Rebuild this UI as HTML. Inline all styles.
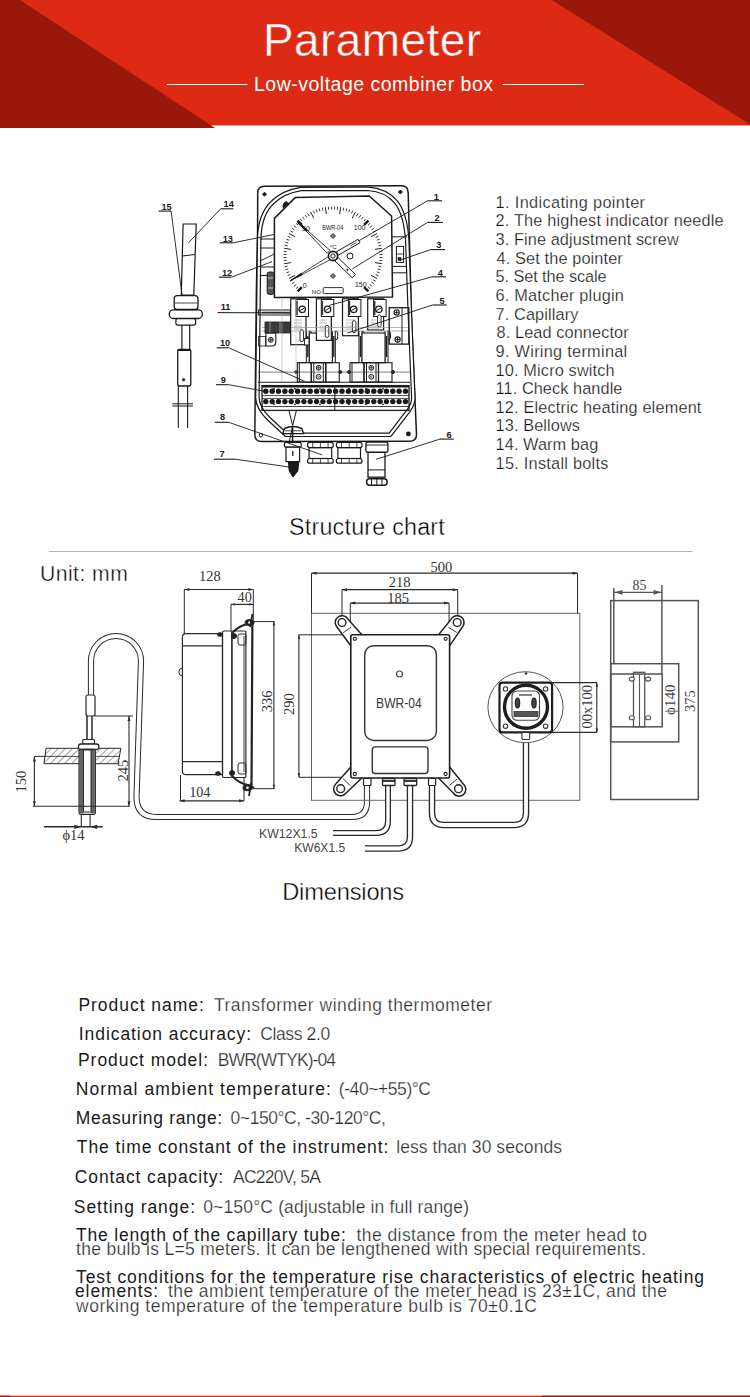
<!DOCTYPE html>
<html><head><meta charset="utf-8"><title>Parameter</title>
<style>
html,body{margin:0;padding:0;background:#fff;}
body{width:750px;height:1397px;position:relative;overflow:hidden;font-family:"Liberation Sans",sans-serif;}
.t{position:absolute;white-space:pre;line-height:1;}
svg{position:absolute;left:0;top:0;}
</style></head><body>
<svg width="750" height="1397" viewBox="0 0 750 1397">
<rect x="0" y="0" width="750" height="125.5" fill="#dd2a14"/>
<polygon points="20,0 215,128 0,128 0,0" fill="#9a1809"/>
<polygon points="552,0 750,0 750,124.5" fill="#9a1809"/>
<line x1="167" y1="84.5" x2="247.5" y2="84.5" stroke="#fff" stroke-width="1.2"/>
<line x1="502.7" y1="84.5" x2="584" y2="84.5" stroke="#fff" stroke-width="1.2"/>
<line x1="48.8" y1="551.5" x2="692.6" y2="551.5" stroke="#b4b4b4" stroke-width="1"/>
<rect x="0" y="1395.7" width="750" height="1.3" fill="#dd2a14"/><rect x="0" y="1395.7" width="10" height="1.3" fill="#9a1809"/><rect x="542" y="1395.7" width="208" height="1.3" fill="#9a1809"/>
<g id="d1"><text x="166.5" y="209.5" font-size="9.2" text-anchor="middle" fill="#1a1a1a" font-family="Liberation Sans" font-weight="bold" >15</text>
<line x1="158.6" y1="211.1" x2="171.1" y2="211.1" stroke="#1a1a1a" stroke-width="1.1"/>
<line x1="171.1" y1="211.1" x2="182.2" y2="296.0" stroke="#1a1a1a" stroke-width="0.9"/>
<text x="228.7" y="207.0" font-size="9.2" text-anchor="middle" fill="#1a1a1a" font-family="Liberation Sans" font-weight="bold" >14</text>
<line x1="220.7" y1="208.8" x2="233.2" y2="208.8" stroke="#1a1a1a" stroke-width="1.1"/>
<line x1="220.7" y1="208.8" x2="188.5" y2="242.8" stroke="#1a1a1a" stroke-width="0.9"/>
<path d="M183.1,224 L196.2,224 L193.8,295 L181.3,295 Z" stroke="#1a1a1a" stroke-width="1.2" fill="none"/>
<line x1="182.5" y1="256.0" x2="194.8" y2="254.5" stroke="#1a1a1a" stroke-width="1.0"/>
<rect x="174.2" y="295.6" width="23.8" height="13.9" rx="3" stroke="#1a1a1a" stroke-width="1.3" fill="none"/>
<line x1="175.0" y1="303.0" x2="197.5" y2="303.0" stroke="#1a1a1a" stroke-width="0.8"/>
<rect x="169.3" y="309.8" width="33.0" height="8.7" rx="4" stroke="#1a1a1a" stroke-width="1.3" fill="none"/>
<rect x="175.9" y="318.5" width="19.7" height="6.6" rx="2" stroke="#1a1a1a" stroke-width="1.2" fill="none"/>
<line x1="181.9" y1="325.0" x2="181.9" y2="349.3" stroke="#1a1a1a" stroke-width="1.2"/>
<line x1="189.7" y1="325.0" x2="189.7" y2="349.3" stroke="#1a1a1a" stroke-width="1.2"/>
<rect x="177.7" y="349.3" width="13.1" height="36.7" rx="2" stroke="#1a1a1a" stroke-width="1.3" fill="none"/>
<line x1="177.7" y1="350.0" x2="190.8" y2="350.0" stroke="#1a1a1a" stroke-width="2.0"/>
<circle cx="183.6" cy="379.7" r="1.3" stroke="#1a1a1a" stroke-width="0.5" fill="#1a1a1a"/>
<line x1="178.3" y1="386.0" x2="178.3" y2="428.0" stroke="#1a1a1a" stroke-width="1.1"/>
<line x1="187.6" y1="386.0" x2="187.6" y2="428.0" stroke="#1a1a1a" stroke-width="1.1"/>
<line x1="172.4" y1="403.8" x2="193.0" y2="403.8" stroke="#1a1a1a" stroke-width="1.0"/>
<line x1="172.4" y1="406.0" x2="193.0" y2="406.0" stroke="#1a1a1a" stroke-width="1.0"/>
<path d="M264.5,186.2 L401.5,185.8 Q408.2,185.8 408.2,193 L411.4,315 L415.3,406.7 L416.5,434.5 Q416.5,441.3 409.5,441.3 L261.8,441.6 Q254.8,441.6 254.8,434.5 L256.4,290 L257.6,228 L257.7,193 Q257.7,186.2 264.5,186.2 Z" stroke="#1a1a1a" stroke-width="1.5" fill="none"/>
<path d="M259.2,240 Q259.5,214 273,202 Q283,192 301,189.0 L368,188.8 Q386,190 396,202 Q405.5,214 407.2,240 L409.9,315 L413.3,398 Q413.3,404 409,410 L390,434.8 L286,434.8 L268,418 Q258,408 257.4,398 L258.6,290 Z" stroke="#1a1a1a" stroke-width="4.6" fill="none" stroke-linejoin="round"/>
<path d="M259.2,240 Q259.5,214 273,202 Q283,192 301,189.0 L368,188.8 Q386,190 396,202 Q405.5,214 407.2,240 L409.9,315 L413.3,398 Q413.3,404 409,410 L390,434.8 L286,434.8 L268,418 Q258,408 257.4,398 L258.6,290 Z" stroke="#fff" stroke-width="2.2" fill="none" stroke-linejoin="round"/>
<path d="M264.5,192.2 L266.5,194.2 L264.5,196.2 L262.5,194.2 Z" stroke="#1a1a1a" stroke-width="1.0" fill="#1a1a1a"/>
<path d="M400.4,190 L402.4,192 L400.4,194 L398.4,192 Z" stroke="#1a1a1a" stroke-width="1.0" fill="#1a1a1a"/>
<circle cx="260.9" cy="435.2" r="1.8" stroke="#1a1a1a" stroke-width="1.0" fill="none"/>
<circle cx="408.4" cy="433.9" r="1.8" stroke="#1a1a1a" stroke-width="1.2" fill="#1a1a1a"/>
<path d="M295.2,197.6 L369.2,196 L391.6,216 L392.5,297 L274.4,297.6 L274.4,218.4 Z" stroke="#1a1a1a" stroke-width="1.5" fill="#fff"/>
<line x1="259.9" y1="239.0" x2="274.4" y2="239.0" stroke="#1a1a1a" stroke-width="1.0"/>
<line x1="259.9" y1="248.0" x2="274.4" y2="248.0" stroke="#1a1a1a" stroke-width="1.0"/>
<line x1="259.9" y1="267.0" x2="274.4" y2="267.0" stroke="#1a1a1a" stroke-width="1.0"/>
<line x1="259.9" y1="275.5" x2="274.4" y2="275.5" stroke="#1a1a1a" stroke-width="1.0"/>
<line x1="259.9" y1="261.0" x2="274.4" y2="254.0" stroke="#1a1a1a" stroke-width="0.9"/>
<rect x="267.2" y="272.0" width="6.8" height="22.4" rx="2" stroke="#1a1a1a" stroke-width="1.0" fill="#555"/>
<line x1="268.0" y1="278.0" x2="273.0" y2="278.0" stroke="#fff" stroke-width="0.7"/>
<line x1="268.0" y1="288.0" x2="273.0" y2="288.0" stroke="#fff" stroke-width="0.7"/>
<path d="M286,202 Q283,204 283.5,207 L288,203.5 Z" stroke="#1a1a1a" stroke-width="1.6" fill="#1a1a1a"/>
<rect x="396.4" y="246.4" width="7.2" height="16.0" rx="0" stroke="#1a1a1a" stroke-width="1.0" fill="none"/>
<line x1="396.4" y1="254.0" x2="403.6" y2="254.0" stroke="#1a1a1a" stroke-width="0.8"/>
<rect x="398.0" y="257.5" width="3.0" height="3.0" rx="0" stroke="#1a1a1a" stroke-width="0.6" fill="#1a1a1a"/>
<line x1="392.0" y1="236.8" x2="407.0" y2="236.8" stroke="#1a1a1a" stroke-width="1.0"/>
<line x1="392.0" y1="266.4" x2="407.0" y2="266.4" stroke="#1a1a1a" stroke-width="1.0"/>
<line x1="392.0" y1="272.8" x2="407.0" y2="272.8" stroke="#1a1a1a" stroke-width="1.0"/>
<line x1="295.9" y1="288.7" x2="298.1" y2="286.8" stroke="#222" stroke-width="0.9"/>
<line x1="293.9" y1="286.3" x2="296.3" y2="284.5" stroke="#222" stroke-width="0.9"/>
<line x1="292.1" y1="283.8" x2="294.5" y2="282.1" stroke="#222" stroke-width="0.9"/>
<line x1="290.4" y1="281.2" x2="293.0" y2="279.7" stroke="#222" stroke-width="0.9"/>
<line x1="288.9" y1="278.5" x2="295.1" y2="275.3" stroke="#222" stroke-width="1.0"/>
<line x1="287.6" y1="275.7" x2="290.3" y2="274.5" stroke="#222" stroke-width="0.9"/>
<line x1="286.4" y1="272.8" x2="289.2" y2="271.8" stroke="#222" stroke-width="0.9"/>
<line x1="285.5" y1="269.8" x2="288.3" y2="269.0" stroke="#222" stroke-width="0.9"/>
<line x1="284.7" y1="266.8" x2="287.6" y2="266.1" stroke="#222" stroke-width="0.9"/>
<line x1="284.1" y1="263.7" x2="291.0" y2="262.6" stroke="#222" stroke-width="1.0"/>
<line x1="283.7" y1="260.7" x2="286.7" y2="260.4" stroke="#222" stroke-width="0.9"/>
<line x1="283.5" y1="257.6" x2="286.5" y2="257.5" stroke="#222" stroke-width="0.9"/>
<line x1="283.5" y1="254.4" x2="286.5" y2="254.5" stroke="#222" stroke-width="0.9"/>
<line x1="283.7" y1="251.3" x2="286.7" y2="251.6" stroke="#222" stroke-width="0.9"/>
<line x1="284.1" y1="248.3" x2="291.0" y2="249.4" stroke="#222" stroke-width="1.0"/>
<line x1="284.7" y1="245.2" x2="287.6" y2="245.9" stroke="#222" stroke-width="0.9"/>
<line x1="285.5" y1="242.2" x2="288.3" y2="243.0" stroke="#222" stroke-width="0.9"/>
<line x1="286.4" y1="239.2" x2="289.2" y2="240.2" stroke="#222" stroke-width="0.9"/>
<line x1="287.6" y1="236.3" x2="290.3" y2="237.5" stroke="#222" stroke-width="0.9"/>
<line x1="288.9" y1="233.5" x2="295.1" y2="236.7" stroke="#222" stroke-width="1.0"/>
<line x1="290.4" y1="230.8" x2="293.0" y2="232.3" stroke="#222" stroke-width="0.9"/>
<line x1="292.1" y1="228.2" x2="294.5" y2="229.9" stroke="#222" stroke-width="0.9"/>
<line x1="293.9" y1="225.7" x2="296.3" y2="227.5" stroke="#222" stroke-width="0.9"/>
<line x1="295.9" y1="223.3" x2="298.1" y2="225.2" stroke="#222" stroke-width="0.9"/>
<line x1="300.3" y1="218.9" x2="302.2" y2="221.1" stroke="#222" stroke-width="0.9"/>
<line x1="302.7" y1="216.9" x2="304.5" y2="219.3" stroke="#222" stroke-width="0.9"/>
<line x1="305.2" y1="215.1" x2="306.9" y2="217.5" stroke="#222" stroke-width="0.9"/>
<line x1="307.8" y1="213.4" x2="309.3" y2="216.0" stroke="#222" stroke-width="0.9"/>
<line x1="310.5" y1="211.9" x2="313.7" y2="218.1" stroke="#222" stroke-width="1.0"/>
<line x1="313.3" y1="210.6" x2="314.5" y2="213.3" stroke="#222" stroke-width="0.9"/>
<line x1="316.2" y1="209.4" x2="317.2" y2="212.2" stroke="#222" stroke-width="0.9"/>
<line x1="319.2" y1="208.5" x2="320.0" y2="211.3" stroke="#222" stroke-width="0.9"/>
<line x1="322.2" y1="207.7" x2="322.9" y2="210.6" stroke="#222" stroke-width="0.9"/>
<line x1="325.3" y1="207.1" x2="326.4" y2="214.0" stroke="#222" stroke-width="1.0"/>
<line x1="328.3" y1="206.7" x2="328.6" y2="209.7" stroke="#222" stroke-width="0.9"/>
<line x1="331.4" y1="206.5" x2="331.5" y2="209.5" stroke="#222" stroke-width="0.9"/>
<line x1="334.6" y1="206.5" x2="334.5" y2="209.5" stroke="#222" stroke-width="0.9"/>
<line x1="337.7" y1="206.7" x2="337.4" y2="209.7" stroke="#222" stroke-width="0.9"/>
<line x1="340.7" y1="207.1" x2="339.6" y2="214.0" stroke="#222" stroke-width="1.0"/>
<line x1="343.8" y1="207.7" x2="343.1" y2="210.6" stroke="#222" stroke-width="0.9"/>
<line x1="346.8" y1="208.5" x2="346.0" y2="211.3" stroke="#222" stroke-width="0.9"/>
<line x1="349.8" y1="209.4" x2="348.8" y2="212.2" stroke="#222" stroke-width="0.9"/>
<line x1="352.7" y1="210.6" x2="351.5" y2="213.3" stroke="#222" stroke-width="0.9"/>
<line x1="355.5" y1="211.9" x2="352.3" y2="218.1" stroke="#222" stroke-width="1.0"/>
<line x1="358.2" y1="213.4" x2="356.7" y2="216.0" stroke="#222" stroke-width="0.9"/>
<line x1="360.8" y1="215.1" x2="359.1" y2="217.5" stroke="#222" stroke-width="0.9"/>
<line x1="363.3" y1="216.9" x2="361.5" y2="219.3" stroke="#222" stroke-width="0.9"/>
<line x1="365.7" y1="218.9" x2="363.8" y2="221.1" stroke="#222" stroke-width="0.9"/>
<line x1="370.1" y1="223.3" x2="367.9" y2="225.2" stroke="#222" stroke-width="0.9"/>
<line x1="372.1" y1="225.7" x2="369.7" y2="227.5" stroke="#222" stroke-width="0.9"/>
<line x1="373.9" y1="228.2" x2="371.5" y2="229.9" stroke="#222" stroke-width="0.9"/>
<line x1="375.6" y1="230.8" x2="373.0" y2="232.3" stroke="#222" stroke-width="0.9"/>
<line x1="377.1" y1="233.5" x2="370.9" y2="236.7" stroke="#222" stroke-width="1.0"/>
<line x1="378.4" y1="236.3" x2="375.7" y2="237.5" stroke="#222" stroke-width="0.9"/>
<line x1="379.6" y1="239.2" x2="376.8" y2="240.2" stroke="#222" stroke-width="0.9"/>
<line x1="380.5" y1="242.2" x2="377.7" y2="243.0" stroke="#222" stroke-width="0.9"/>
<line x1="381.3" y1="245.2" x2="378.4" y2="245.9" stroke="#222" stroke-width="0.9"/>
<line x1="381.9" y1="248.3" x2="375.0" y2="249.4" stroke="#222" stroke-width="1.0"/>
<line x1="382.3" y1="251.3" x2="379.3" y2="251.6" stroke="#222" stroke-width="0.9"/>
<line x1="382.5" y1="254.4" x2="379.5" y2="254.5" stroke="#222" stroke-width="0.9"/>
<line x1="382.5" y1="257.6" x2="379.5" y2="257.5" stroke="#222" stroke-width="0.9"/>
<line x1="382.3" y1="260.7" x2="379.3" y2="260.4" stroke="#222" stroke-width="0.9"/>
<line x1="381.9" y1="263.7" x2="375.0" y2="262.6" stroke="#222" stroke-width="1.0"/>
<line x1="381.3" y1="266.8" x2="378.4" y2="266.1" stroke="#222" stroke-width="0.9"/>
<line x1="380.5" y1="269.8" x2="377.7" y2="269.0" stroke="#222" stroke-width="0.9"/>
<line x1="379.6" y1="272.8" x2="376.8" y2="271.8" stroke="#222" stroke-width="0.9"/>
<line x1="378.4" y1="275.7" x2="375.7" y2="274.5" stroke="#222" stroke-width="0.9"/>
<line x1="377.1" y1="278.5" x2="370.9" y2="275.3" stroke="#222" stroke-width="1.0"/>
<line x1="375.6" y1="281.2" x2="373.0" y2="279.7" stroke="#222" stroke-width="0.9"/>
<line x1="373.9" y1="283.8" x2="371.5" y2="282.1" stroke="#222" stroke-width="0.9"/>
<line x1="372.1" y1="286.3" x2="369.7" y2="284.5" stroke="#222" stroke-width="0.9"/>
<line x1="370.1" y1="288.7" x2="367.9" y2="286.8" stroke="#222" stroke-width="0.9"/>
<line x1="297.6" y1="291.4" x2="301.9" y2="287.1" stroke="#1a1a1a" stroke-width="2.4"/>
<line x1="297.6" y1="220.6" x2="301.9" y2="224.9" stroke="#1a1a1a" stroke-width="2.4"/>
<line x1="368.4" y1="220.6" x2="364.1" y2="224.9" stroke="#1a1a1a" stroke-width="2.4"/>
<line x1="368.4" y1="291.4" x2="364.1" y2="287.1" stroke="#1a1a1a" stroke-width="2.4"/>
<text x="304.8" y="288.0" font-size="7" text-anchor="middle" fill="#1a1a1a" font-family="Liberation Sans"  >0</text>
<text x="306.0" y="231.0" font-size="7" text-anchor="middle" fill="#1a1a1a" font-family="Liberation Sans"  >50</text>
<text x="359.6" y="229.6" font-size="7" text-anchor="middle" fill="#1a1a1a" font-family="Liberation Sans"  >100</text>
<text x="360.8" y="287.2" font-size="7" text-anchor="middle" fill="#1a1a1a" font-family="Liberation Sans"  >150</text>
<text x="332.8" y="229.6" font-size="6.3" text-anchor="middle" fill="#1a1a1a" font-family="Liberation Sans"  textLength="21" lengthAdjust="spacingAndGlyphs">BWR-04</text>
<text x="333.2" y="248.8" font-size="6" text-anchor="middle" fill="#1a1a1a" font-family="Liberation Sans"  >°C</text>
<text x="317.2" y="293.6" font-size="6" text-anchor="middle" fill="#1a1a1a" font-family="Liberation Sans"  >NO.</text>
<rect x="323.2" y="287.6" width="20.0" height="6.0" rx="1" stroke="#1a1a1a" stroke-width="0.9" fill="none"/>
<path d="M330.5,236 L333,233.5 L335.5,236 L333,238.5 Z" stroke="#1a1a1a" stroke-width="0.9" fill="#888"/>
<path d="M330.5,276 L333,273.5 L335.5,276 L333,278.5 Z" stroke="#1a1a1a" stroke-width="0.9" fill="#888"/>
<circle cx="350.0" cy="256.0" r="3" stroke="#1a1a1a" stroke-width="1.0" fill="none"/>
<path d="M290.6,280.5 L330.4,259.6 L328.6,256.4 Z" stroke="#1a1a1a" stroke-width="0.8" fill="#fff"/>
<path d="M290.6,280.5 L302.3,274.8 L301.4,273.2 Z" stroke="#1a1a1a" stroke-width="0.8" fill="#1a1a1a"/>
<path d="M338.3,255.2 L360.0,242.7 L358.0,239.3 L336.3,251.8 Z" stroke="#1a1a1a" stroke-width="1.0" fill="#fff"/>
<line x1="350.3" y1="246.0" x2="356.4" y2="242.5" stroke="#1a1a1a" stroke-width="0.8"/>
<path d="M297.0,221.3 L330.1,250.4 L327.3,253.3 Z" stroke="#1a1a1a" stroke-width="0.9" fill="#fff"/>
<line x1="307.1" y1="231.0" x2="297.8" y2="222.0" stroke="#1a1a1a" stroke-width="2.2"/>
<path d="M338.2,257.8 L355.5,274.5 L352.3,277.8 L335.0,261.1 Z" stroke="#1a1a1a" stroke-width="1.0" fill="#fff"/>
<circle cx="347.4" cy="269.9" r="0.8" stroke="#1a1a1a" stroke-width="0.5" fill="#1a1a1a"/>
<circle cx="333.0" cy="256.0" r="4.6" stroke="#1a1a1a" stroke-width="1.6" fill="#fff"/>
<circle cx="333.0" cy="256.0" r="2.2" stroke="#1a1a1a" stroke-width="1.0" fill="none"/>
<line x1="306.3" y1="331.0" x2="306.3" y2="362.7" stroke="#1a1a1a" stroke-width="1.0"/>
<line x1="309.3" y1="331.0" x2="309.3" y2="362.7" stroke="#1a1a1a" stroke-width="1.0"/>
<line x1="307.8" y1="336.0" x2="307.8" y2="357.0" stroke="#222" stroke-width="1.4"/>
<path d="M309.3,331 Q311.8,331 311.8,334 L311.8,337 Q311.8,340 309.3,340" stroke="#1a1a1a" stroke-width="1.0" fill="none"/>
<line x1="332.3" y1="331.0" x2="332.3" y2="362.7" stroke="#1a1a1a" stroke-width="1.0"/>
<line x1="335.3" y1="331.0" x2="335.3" y2="362.7" stroke="#1a1a1a" stroke-width="1.0"/>
<line x1="333.8" y1="336.0" x2="333.8" y2="357.0" stroke="#222" stroke-width="1.4"/>
<path d="M335.3,331 Q337.8,331 337.8,334 L337.8,337 Q337.8,340 335.3,340" stroke="#1a1a1a" stroke-width="1.0" fill="none"/>
<rect x="309.3" y="333.0" width="23.0" height="29.7" rx="0" stroke="#1a1a1a" stroke-width="1.1" fill="#fff"/>
<path d="M306.3,362.7 L299.3,362.7 L299.3,382 M309.3,362.7 L310.3,362.7" stroke="#1a1a1a" stroke-width="1.0" fill="none"/>
<rect x="297.3" y="362.7" width="14.0" height="19.3" rx="0" stroke="#1a1a1a" stroke-width="1.1" fill="none"/>
<rect x="311.3" y="362.7" width="14.5" height="19.3" rx="0" stroke="#1a1a1a" stroke-width="1.2" fill="none"/>
<rect x="325.8" y="362.7" width="13.5" height="19.3" rx="0" stroke="#1a1a1a" stroke-width="1.1" fill="none"/>
<line x1="313.8" y1="362.7" x2="313.8" y2="382.0" stroke="#1a1a1a" stroke-width="1.0"/>
<line x1="323.3" y1="362.7" x2="323.3" y2="382.0" stroke="#1a1a1a" stroke-width="1.0"/>
<circle cx="318.6" cy="367.8" r="2.4" stroke="#1a1a1a" stroke-width="1.0" fill="none"/>
<line x1="316.3" y1="367.8" x2="320.9" y2="367.8" stroke="#1a1a1a" stroke-width="0.8"/>
<line x1="318.6" y1="365.5" x2="318.6" y2="370.1" stroke="#1a1a1a" stroke-width="0.8"/>
<circle cx="318.6" cy="376.8" r="2.4" stroke="#1a1a1a" stroke-width="1.0" fill="none"/>
<circle cx="318.6" cy="376.8" r="0.9" stroke="#1a1a1a" stroke-width="0.6" fill="none"/>
<path d="M297.3,372 L295.3,372 " stroke="#1a1a1a" stroke-width="1.0" fill="none"/>
<circle cx="296.3" cy="372.0" r="1.5" stroke="#1a1a1a" stroke-width="0.9" fill="#1a1a1a"/>
<circle cx="340.3" cy="372.0" r="1.5" stroke="#1a1a1a" stroke-width="0.9" fill="#1a1a1a"/>
<line x1="359.0" y1="331.0" x2="359.0" y2="362.7" stroke="#1a1a1a" stroke-width="1.0"/>
<line x1="362.0" y1="331.0" x2="362.0" y2="362.7" stroke="#1a1a1a" stroke-width="1.0"/>
<line x1="360.5" y1="336.0" x2="360.5" y2="357.0" stroke="#222" stroke-width="1.4"/>
<path d="M362.0,331 Q364.5,331 364.5,334 L364.5,337 Q364.5,340 362.0,340" stroke="#1a1a1a" stroke-width="1.0" fill="none"/>
<line x1="385.0" y1="331.0" x2="385.0" y2="362.7" stroke="#1a1a1a" stroke-width="1.0"/>
<line x1="388.0" y1="331.0" x2="388.0" y2="362.7" stroke="#1a1a1a" stroke-width="1.0"/>
<line x1="386.5" y1="336.0" x2="386.5" y2="357.0" stroke="#222" stroke-width="1.4"/>
<path d="M388.0,331 Q390.5,331 390.5,334 L390.5,337 Q390.5,340 388.0,340" stroke="#1a1a1a" stroke-width="1.0" fill="none"/>
<rect x="362.0" y="333.0" width="23.0" height="29.7" rx="0" stroke="#1a1a1a" stroke-width="1.1" fill="#fff"/>
<path d="M359,362.7 L352,362.7 L352,382 M362,362.7 L363,362.7" stroke="#1a1a1a" stroke-width="1.0" fill="none"/>
<rect x="350.0" y="362.7" width="14.0" height="19.3" rx="0" stroke="#1a1a1a" stroke-width="1.1" fill="none"/>
<rect x="364.0" y="362.7" width="14.5" height="19.3" rx="0" stroke="#1a1a1a" stroke-width="1.2" fill="none"/>
<rect x="378.5" y="362.7" width="13.5" height="19.3" rx="0" stroke="#1a1a1a" stroke-width="1.1" fill="none"/>
<line x1="366.5" y1="362.7" x2="366.5" y2="382.0" stroke="#1a1a1a" stroke-width="1.0"/>
<line x1="376.0" y1="362.7" x2="376.0" y2="382.0" stroke="#1a1a1a" stroke-width="1.0"/>
<circle cx="371.3" cy="367.8" r="2.4" stroke="#1a1a1a" stroke-width="1.0" fill="none"/>
<line x1="369.0" y1="367.8" x2="373.6" y2="367.8" stroke="#1a1a1a" stroke-width="0.8"/>
<line x1="371.3" y1="365.5" x2="371.3" y2="370.1" stroke="#1a1a1a" stroke-width="0.8"/>
<circle cx="371.3" cy="376.8" r="2.4" stroke="#1a1a1a" stroke-width="1.0" fill="none"/>
<circle cx="371.3" cy="376.8" r="0.9" stroke="#1a1a1a" stroke-width="0.6" fill="none"/>
<path d="M350,372 L348,372 " stroke="#1a1a1a" stroke-width="1.0" fill="none"/>
<circle cx="349.0" cy="372.0" r="1.5" stroke="#1a1a1a" stroke-width="0.9" fill="#1a1a1a"/>
<circle cx="393.0" cy="372.0" r="1.5" stroke="#1a1a1a" stroke-width="0.9" fill="#1a1a1a"/>
<rect x="290.7" y="298.8" width="15.3" height="45.9" rx="0" stroke="#1a1a1a" stroke-width="1.2" fill="#fff"/>
<rect x="296.0" y="299.5" width="12.5" height="17.0" rx="0" stroke="#1a1a1a" stroke-width="1.0" fill="#fff"/>
<line x1="297.0" y1="301.0" x2="297.0" y2="315.0" stroke="#333" stroke-width="1.6"/>
<circle cx="302.2" cy="309.3" r="3.2" stroke="#1a1a1a" stroke-width="1.3" fill="none"/>
<line x1="300.0" y1="310.5" x2="304.4" y2="308.0" stroke="#1a1a1a" stroke-width="1.0"/>
<line x1="293.7" y1="320.0" x2="302.0" y2="320.0" stroke="#888" stroke-width="0.6"/>
<line x1="293.7" y1="323.0" x2="302.0" y2="323.0" stroke="#888" stroke-width="0.6"/>
<line x1="293.7" y1="326.0" x2="302.0" y2="326.0" stroke="#888" stroke-width="0.6"/>
<line x1="293.7" y1="329.0" x2="302.0" y2="329.0" stroke="#888" stroke-width="0.6"/>
<rect x="300.0" y="329.7" width="3.5" height="12.0" rx="1.7" stroke="#1a1a1a" stroke-width="0.9" fill="#fff"/>
<rect x="316.4" y="298.8" width="14.9" height="41.6" rx="0" stroke="#1a1a1a" stroke-width="1.2" fill="#fff"/>
<rect x="321.3" y="299.5" width="12.5" height="17.0" rx="0" stroke="#1a1a1a" stroke-width="1.0" fill="#fff"/>
<line x1="322.3" y1="301.0" x2="322.3" y2="315.0" stroke="#333" stroke-width="1.6"/>
<circle cx="327.6" cy="309.3" r="3.2" stroke="#1a1a1a" stroke-width="1.3" fill="none"/>
<line x1="325.4" y1="310.5" x2="329.8" y2="308.0" stroke="#1a1a1a" stroke-width="1.0"/>
<line x1="319.4" y1="320.0" x2="327.3" y2="320.0" stroke="#888" stroke-width="0.6"/>
<line x1="319.4" y1="323.0" x2="327.3" y2="323.0" stroke="#888" stroke-width="0.6"/>
<line x1="319.4" y1="326.0" x2="327.3" y2="326.0" stroke="#888" stroke-width="0.6"/>
<line x1="319.4" y1="329.0" x2="327.3" y2="329.0" stroke="#888" stroke-width="0.6"/>
<rect x="325.3" y="325.4" width="3.5" height="12.0" rx="1.7" stroke="#1a1a1a" stroke-width="0.9" fill="#fff"/>
<rect x="342.5" y="298.8" width="15.9" height="36.9" rx="0" stroke="#1a1a1a" stroke-width="1.2" fill="#fff"/>
<rect x="348.4" y="299.5" width="12.5" height="17.0" rx="0" stroke="#1a1a1a" stroke-width="1.0" fill="#fff"/>
<line x1="349.4" y1="301.0" x2="349.4" y2="315.0" stroke="#333" stroke-width="1.6"/>
<circle cx="353.7" cy="309.3" r="3.2" stroke="#1a1a1a" stroke-width="1.3" fill="none"/>
<line x1="351.5" y1="310.5" x2="355.9" y2="308.0" stroke="#1a1a1a" stroke-width="1.0"/>
<line x1="345.5" y1="320.0" x2="354.4" y2="320.0" stroke="#888" stroke-width="0.6"/>
<line x1="345.5" y1="323.0" x2="354.4" y2="323.0" stroke="#888" stroke-width="0.6"/>
<line x1="345.5" y1="326.0" x2="354.4" y2="326.0" stroke="#888" stroke-width="0.6"/>
<line x1="345.5" y1="329.0" x2="354.4" y2="329.0" stroke="#888" stroke-width="0.6"/>
<rect x="352.4" y="320.7" width="3.5" height="12.0" rx="1.7" stroke="#1a1a1a" stroke-width="0.9" fill="#fff"/>
<rect x="367.7" y="298.8" width="15.9" height="31.2" rx="0" stroke="#1a1a1a" stroke-width="1.2" fill="#fff"/>
<rect x="373.6" y="299.5" width="12.5" height="17.0" rx="0" stroke="#1a1a1a" stroke-width="1.0" fill="#fff"/>
<line x1="374.6" y1="301.0" x2="374.6" y2="315.0" stroke="#333" stroke-width="1.6"/>
<circle cx="378.9" cy="309.3" r="3.2" stroke="#1a1a1a" stroke-width="1.3" fill="none"/>
<line x1="376.7" y1="310.5" x2="381.1" y2="308.0" stroke="#1a1a1a" stroke-width="1.0"/>
<line x1="370.7" y1="320.0" x2="379.6" y2="320.0" stroke="#888" stroke-width="0.6"/>
<line x1="370.7" y1="323.0" x2="379.6" y2="323.0" stroke="#888" stroke-width="0.6"/>
<line x1="370.7" y1="326.0" x2="379.6" y2="326.0" stroke="#888" stroke-width="0.6"/>
<line x1="370.7" y1="329.0" x2="379.6" y2="329.0" stroke="#888" stroke-width="0.6"/>
<rect x="377.6" y="315.0" width="3.5" height="12.0" rx="1.7" stroke="#1a1a1a" stroke-width="0.9" fill="#fff"/>
<line x1="262.0" y1="327.5" x2="410.0" y2="327.5" stroke="#999" stroke-width="0.7"/>
<line x1="262.0" y1="331.0" x2="410.0" y2="331.0" stroke="#999" stroke-width="0.7"/>
<rect x="389.2" y="307.7" width="19.6" height="36.4" rx="0" stroke="#1a1a1a" stroke-width="1.3" fill="none"/>
<line x1="402.0" y1="307.7" x2="402.0" y2="344.1" stroke="#1a1a1a" stroke-width="1.0"/>
<circle cx="396.7" cy="312.4" r="2.6" stroke="#1a1a1a" stroke-width="1.1" fill="none"/>
<line x1="394.7" y1="312.4" x2="398.7" y2="312.4" stroke="#1a1a1a" stroke-width="1.0"/>
<line x1="396.7" y1="310.4" x2="396.7" y2="314.4" stroke="#1a1a1a" stroke-width="1.0"/>
<circle cx="397.6" cy="339.5" r="2.6" stroke="#1a1a1a" stroke-width="1.1" fill="none"/>
<line x1="395.6" y1="339.5" x2="399.6" y2="339.5" stroke="#1a1a1a" stroke-width="1.0"/>
<line x1="397.6" y1="337.5" x2="397.6" y2="341.5" stroke="#1a1a1a" stroke-width="1.0"/>
<rect x="258.6" y="310.0" width="31.8" height="5.0" rx="0" stroke="#1a1a1a" stroke-width="1.0" fill="none"/>
<line x1="262.0" y1="312.5" x2="290.0" y2="312.5" stroke="#444" stroke-width="1.6"/>
<rect x="265.0" y="322.0" width="25.4" height="11.0" rx="0" stroke="#1a1a1a" stroke-width="0.8" fill="#3a3a3a"/>
<line x1="270.0" y1="322.0" x2="270.0" y2="333.0" stroke="#aaa" stroke-width="0.8"/>
<line x1="280.0" y1="322.0" x2="280.0" y2="333.0" stroke="#aaa" stroke-width="0.8"/>
<path d="M265.9,333 L275.8,333 L275.8,342 Q275.8,346 271.8,346 L265.9,346 Z" stroke="#1a1a1a" stroke-width="1.1" fill="none"/>
<circle cx="270.8" cy="339.8" r="2.4" stroke="#1a1a1a" stroke-width="1.0" fill="none"/>
<line x1="268.4" y1="339.8" x2="273.2" y2="339.8" stroke="#1a1a1a" stroke-width="0.9"/>
<line x1="270.8" y1="337.4" x2="270.8" y2="342.2" stroke="#1a1a1a" stroke-width="0.9"/>
<rect x="258.6" y="336.5" width="6.9" height="9.5" rx="0" stroke="#1a1a1a" stroke-width="0.8" fill="none"/>
<line x1="282.0" y1="297.6" x2="282.0" y2="382.0" stroke="#aaa" stroke-width="0.6"/>
<line x1="296.0" y1="297.6" x2="296.0" y2="382.0" stroke="#bbb" stroke-width="0.6"/>
<rect x="304.5" y="338.5" width="4.5" height="6.5" rx="0" stroke="#1a1a1a" stroke-width="0.9" fill="#fff"/>
<line x1="258.0" y1="372.1" x2="410.0" y2="372.1" stroke="#444" stroke-width="0.7"/>
<line x1="258.0" y1="382.3" x2="410.0" y2="382.3" stroke="#1a1a1a" stroke-width="1.1"/>
<rect x="262.0" y="385.6" width="147.0" height="24.8" rx="0" stroke="#1a1a1a" stroke-width="1.3" fill="none"/>
<line x1="262.0" y1="386.4" x2="409.0" y2="386.4" stroke="#1a1a1a" stroke-width="2.2"/>
<line x1="262.0" y1="395.6" x2="409.0" y2="395.6" stroke="#1a1a1a" stroke-width="0.8"/>
<line x1="262.0" y1="398.6" x2="409.0" y2="398.6" stroke="#1a1a1a" stroke-width="0.8"/>
<line x1="262.0" y1="406.5" x2="409.0" y2="406.5" stroke="#1a1a1a" stroke-width="0.8"/>
<line x1="334.8" y1="386.0" x2="334.8" y2="410.4" stroke="#1a1a1a" stroke-width="1.0"/>
<circle cx="265.8" cy="391.3" r="2.7" stroke="#1a1a1a" stroke-width="0" fill="#1a1a1a"/>
<circle cx="265.8" cy="401.6" r="2.7" stroke="#1a1a1a" stroke-width="0" fill="#1a1a1a"/>
<circle cx="272.2" cy="391.3" r="2.7" stroke="#1a1a1a" stroke-width="0" fill="#1a1a1a"/>
<circle cx="272.2" cy="401.6" r="2.7" stroke="#1a1a1a" stroke-width="0" fill="#1a1a1a"/>
<circle cx="278.5" cy="391.3" r="2.7" stroke="#1a1a1a" stroke-width="0" fill="#1a1a1a"/>
<circle cx="278.5" cy="401.6" r="2.7" stroke="#1a1a1a" stroke-width="0" fill="#1a1a1a"/>
<circle cx="284.9" cy="391.3" r="2.7" stroke="#1a1a1a" stroke-width="0" fill="#1a1a1a"/>
<circle cx="284.9" cy="401.6" r="2.7" stroke="#1a1a1a" stroke-width="0" fill="#1a1a1a"/>
<circle cx="291.2" cy="391.3" r="2.7" stroke="#1a1a1a" stroke-width="0" fill="#1a1a1a"/>
<circle cx="291.2" cy="401.6" r="2.7" stroke="#1a1a1a" stroke-width="0" fill="#1a1a1a"/>
<circle cx="297.6" cy="391.3" r="2.7" stroke="#1a1a1a" stroke-width="0" fill="#1a1a1a"/>
<circle cx="297.6" cy="401.6" r="2.7" stroke="#1a1a1a" stroke-width="0" fill="#1a1a1a"/>
<circle cx="303.9" cy="391.3" r="2.7" stroke="#1a1a1a" stroke-width="0" fill="#1a1a1a"/>
<circle cx="303.9" cy="401.6" r="2.7" stroke="#1a1a1a" stroke-width="0" fill="#1a1a1a"/>
<circle cx="310.2" cy="391.3" r="2.7" stroke="#1a1a1a" stroke-width="0" fill="#1a1a1a"/>
<circle cx="310.2" cy="401.6" r="2.7" stroke="#1a1a1a" stroke-width="0" fill="#1a1a1a"/>
<circle cx="316.6" cy="391.3" r="2.7" stroke="#1a1a1a" stroke-width="0" fill="#1a1a1a"/>
<circle cx="316.6" cy="401.6" r="2.7" stroke="#1a1a1a" stroke-width="0" fill="#1a1a1a"/>
<circle cx="322.9" cy="391.3" r="2.7" stroke="#1a1a1a" stroke-width="0" fill="#1a1a1a"/>
<circle cx="322.9" cy="401.6" r="2.7" stroke="#1a1a1a" stroke-width="0" fill="#1a1a1a"/>
<circle cx="329.3" cy="391.3" r="2.7" stroke="#1a1a1a" stroke-width="0" fill="#1a1a1a"/>
<circle cx="329.3" cy="401.6" r="2.7" stroke="#1a1a1a" stroke-width="0" fill="#1a1a1a"/>
<circle cx="335.6" cy="391.3" r="2.7" stroke="#1a1a1a" stroke-width="0" fill="#1a1a1a"/>
<circle cx="335.6" cy="401.6" r="2.7" stroke="#1a1a1a" stroke-width="0" fill="#1a1a1a"/>
<circle cx="342.0" cy="391.3" r="2.7" stroke="#1a1a1a" stroke-width="0" fill="#1a1a1a"/>
<circle cx="342.0" cy="401.6" r="2.7" stroke="#1a1a1a" stroke-width="0" fill="#1a1a1a"/>
<circle cx="348.4" cy="391.3" r="2.7" stroke="#1a1a1a" stroke-width="0" fill="#1a1a1a"/>
<circle cx="348.4" cy="401.6" r="2.7" stroke="#1a1a1a" stroke-width="0" fill="#1a1a1a"/>
<circle cx="354.7" cy="391.3" r="2.7" stroke="#1a1a1a" stroke-width="0" fill="#1a1a1a"/>
<circle cx="354.7" cy="401.6" r="2.7" stroke="#1a1a1a" stroke-width="0" fill="#1a1a1a"/>
<circle cx="361.1" cy="391.3" r="2.7" stroke="#1a1a1a" stroke-width="0" fill="#1a1a1a"/>
<circle cx="361.1" cy="401.6" r="2.7" stroke="#1a1a1a" stroke-width="0" fill="#1a1a1a"/>
<circle cx="367.4" cy="391.3" r="2.7" stroke="#1a1a1a" stroke-width="0" fill="#1a1a1a"/>
<circle cx="367.4" cy="401.6" r="2.7" stroke="#1a1a1a" stroke-width="0" fill="#1a1a1a"/>
<circle cx="373.8" cy="391.3" r="2.7" stroke="#1a1a1a" stroke-width="0" fill="#1a1a1a"/>
<circle cx="373.8" cy="401.6" r="2.7" stroke="#1a1a1a" stroke-width="0" fill="#1a1a1a"/>
<circle cx="380.1" cy="391.3" r="2.7" stroke="#1a1a1a" stroke-width="0" fill="#1a1a1a"/>
<circle cx="380.1" cy="401.6" r="2.7" stroke="#1a1a1a" stroke-width="0" fill="#1a1a1a"/>
<circle cx="386.4" cy="391.3" r="2.7" stroke="#1a1a1a" stroke-width="0" fill="#1a1a1a"/>
<circle cx="386.4" cy="401.6" r="2.7" stroke="#1a1a1a" stroke-width="0" fill="#1a1a1a"/>
<circle cx="392.8" cy="391.3" r="2.7" stroke="#1a1a1a" stroke-width="0" fill="#1a1a1a"/>
<circle cx="392.8" cy="401.6" r="2.7" stroke="#1a1a1a" stroke-width="0" fill="#1a1a1a"/>
<circle cx="399.1" cy="391.3" r="2.7" stroke="#1a1a1a" stroke-width="0" fill="#1a1a1a"/>
<circle cx="399.1" cy="401.6" r="2.7" stroke="#1a1a1a" stroke-width="0" fill="#1a1a1a"/>
<circle cx="405.5" cy="391.3" r="2.7" stroke="#1a1a1a" stroke-width="0" fill="#1a1a1a"/>
<circle cx="405.5" cy="401.6" r="2.7" stroke="#1a1a1a" stroke-width="0" fill="#1a1a1a"/>
<circle cx="274.0" cy="388.8" r="0.9" stroke="#1a1a1a" stroke-width="0" fill="#1a1a1a"/>
<circle cx="274.0" cy="404.3" r="0.9" stroke="#1a1a1a" stroke-width="0" fill="#1a1a1a"/>
<circle cx="295.0" cy="388.8" r="0.9" stroke="#1a1a1a" stroke-width="0" fill="#1a1a1a"/>
<circle cx="295.0" cy="404.3" r="0.9" stroke="#1a1a1a" stroke-width="0" fill="#1a1a1a"/>
<circle cx="320.0" cy="388.8" r="0.9" stroke="#1a1a1a" stroke-width="0" fill="#1a1a1a"/>
<circle cx="320.0" cy="404.3" r="0.9" stroke="#1a1a1a" stroke-width="0" fill="#1a1a1a"/>
<circle cx="349.0" cy="388.8" r="0.9" stroke="#1a1a1a" stroke-width="0" fill="#1a1a1a"/>
<circle cx="349.0" cy="404.3" r="0.9" stroke="#1a1a1a" stroke-width="0" fill="#1a1a1a"/>
<circle cx="366.0" cy="388.8" r="0.9" stroke="#1a1a1a" stroke-width="0" fill="#1a1a1a"/>
<circle cx="366.0" cy="404.3" r="0.9" stroke="#1a1a1a" stroke-width="0" fill="#1a1a1a"/>
<circle cx="383.0" cy="388.8" r="0.9" stroke="#1a1a1a" stroke-width="0" fill="#1a1a1a"/>
<circle cx="383.0" cy="404.3" r="0.9" stroke="#1a1a1a" stroke-width="0" fill="#1a1a1a"/>
<line x1="289.0" y1="410.4" x2="292.6" y2="425.5" stroke="#1a1a1a" stroke-width="1.0"/>
<line x1="296.4" y1="410.4" x2="292.6" y2="425.5" stroke="#1a1a1a" stroke-width="1.0"/>
<path d="M282.8,433.6 L284.5,428.5 Q293,424.5 301.8,428.5 L303.6,433.6 Z" stroke="#1a1a1a" stroke-width="1.4" fill="#fff"/>
<line x1="285.0" y1="430.8" x2="301.4" y2="430.8" stroke="#1a1a1a" stroke-width="0.8"/>
<line x1="292.6" y1="426.0" x2="292.6" y2="441.0" stroke="#1a1a1a" stroke-width="1.4"/>
<line x1="292.6" y1="426.0" x2="289.5" y2="441.0" stroke="#1a1a1a" stroke-width="1.0"/>
<rect x="284.4" y="442.4" width="16.8" height="4.8" rx="1.5" stroke="#1a1a1a" stroke-width="1.2" fill="#fff"/>
<rect x="286.0" y="447.2" width="13.6" height="14.4" rx="0" stroke="#1a1a1a" stroke-width="1.2" fill="#fff"/>
<line x1="292.8" y1="451.0" x2="292.8" y2="456.0" stroke="#1a1a1a" stroke-width="1.3"/>
<path d="M288.4,461.6 L298.8,461.6 L297.8,471 L293,477 L289.2,471 Z" stroke="#1a1a1a" stroke-width="1.0" fill="#1a1a1a"/>
<rect x="307.6" y="442.4" width="25.6" height="5.2" rx="2" stroke="#1a1a1a" stroke-width="1.2" fill="none"/>
<rect x="309.1" y="447.6" width="22.6" height="10.9" rx="0" stroke="#1a1a1a" stroke-width="1.2" fill="none"/>
<rect x="307.6" y="458.5" width="25.6" height="4.7" rx="2" stroke="#1a1a1a" stroke-width="1.2" fill="none"/>
<line x1="312.7" y1="442.4" x2="312.7" y2="447.6" stroke="#1a1a1a" stroke-width="0.8"/>
<line x1="312.7" y1="458.5" x2="312.7" y2="463.2" stroke="#1a1a1a" stroke-width="0.8"/>
<line x1="320.4" y1="442.4" x2="320.4" y2="447.6" stroke="#1a1a1a" stroke-width="0.8"/>
<line x1="320.4" y1="458.5" x2="320.4" y2="463.2" stroke="#1a1a1a" stroke-width="0.8"/>
<line x1="328.1" y1="442.4" x2="328.1" y2="447.6" stroke="#1a1a1a" stroke-width="0.8"/>
<line x1="328.1" y1="458.5" x2="328.1" y2="463.2" stroke="#1a1a1a" stroke-width="0.8"/>
<rect x="336.4" y="442.4" width="25.6" height="5.2" rx="2" stroke="#1a1a1a" stroke-width="1.2" fill="none"/>
<rect x="337.9" y="447.6" width="22.6" height="10.9" rx="0" stroke="#1a1a1a" stroke-width="1.2" fill="none"/>
<rect x="336.4" y="458.5" width="25.6" height="4.7" rx="2" stroke="#1a1a1a" stroke-width="1.2" fill="none"/>
<line x1="341.5" y1="442.4" x2="341.5" y2="447.6" stroke="#1a1a1a" stroke-width="0.8"/>
<line x1="341.5" y1="458.5" x2="341.5" y2="463.2" stroke="#1a1a1a" stroke-width="0.8"/>
<line x1="349.2" y1="442.4" x2="349.2" y2="447.6" stroke="#1a1a1a" stroke-width="0.8"/>
<line x1="349.2" y1="458.5" x2="349.2" y2="463.2" stroke="#1a1a1a" stroke-width="0.8"/>
<line x1="356.9" y1="442.4" x2="356.9" y2="447.6" stroke="#1a1a1a" stroke-width="0.8"/>
<line x1="356.9" y1="458.5" x2="356.9" y2="463.2" stroke="#1a1a1a" stroke-width="0.8"/>
<rect x="365.9" y="442.0" width="22.0" height="10.3" rx="2" stroke="#1a1a1a" stroke-width="1.3" fill="none"/>
<line x1="366.0" y1="445.0" x2="387.8" y2="445.0" stroke="#1a1a1a" stroke-width="0.9"/>
<rect x="368.0" y="452.3" width="17.0" height="24.9" rx="0" stroke="#1a1a1a" stroke-width="1.3" fill="none"/>
<line x1="368.0" y1="469.9" x2="385.0" y2="469.9" stroke="#1a1a1a" stroke-width="1.0"/>
<rect x="366.6" y="478.7" width="20.5" height="6.6" rx="3" stroke="#1a1a1a" stroke-width="1.5" fill="none"/>
<line x1="371.5" y1="478.7" x2="371.5" y2="485.3" stroke="#1a1a1a" stroke-width="1.0"/>
<line x1="376.8" y1="478.7" x2="376.8" y2="485.3" stroke="#1a1a1a" stroke-width="1.0"/>
<line x1="382.0" y1="478.7" x2="382.0" y2="485.3" stroke="#1a1a1a" stroke-width="1.0"/>
<text x="227.8" y="241.5" font-size="9.2" text-anchor="middle" fill="#1a1a1a" font-family="Liberation Sans" font-weight="bold" >13</text>
<line x1="219.8" y1="242.8" x2="233.2" y2="242.8" stroke="#1a1a1a" stroke-width="1.1"/>
<line x1="233.2" y1="242.8" x2="274.4" y2="234.4" stroke="#1a1a1a" stroke-width="0.9"/>
<text x="227.0" y="275.5" font-size="9.2" text-anchor="middle" fill="#1a1a1a" font-family="Liberation Sans" font-weight="bold" >12</text>
<line x1="218.9" y1="277.2" x2="231.4" y2="277.2" stroke="#1a1a1a" stroke-width="1.1"/>
<line x1="231.4" y1="277.2" x2="272.0" y2="261.6" stroke="#1a1a1a" stroke-width="0.9"/>
<text x="225.6" y="310.2" font-size="9.2" text-anchor="middle" fill="#1a1a1a" font-family="Liberation Sans" font-weight="bold" >11</text>
<line x1="217.6" y1="312.6" x2="290.0" y2="313.0" stroke="#1a1a1a" stroke-width="1.0"/>
<text x="225.0" y="346.3" font-size="9.2" text-anchor="middle" fill="#1a1a1a" font-family="Liberation Sans" font-weight="bold" >10</text>
<line x1="216.6" y1="347.8" x2="228.7" y2="347.8" stroke="#1a1a1a" stroke-width="1.1"/>
<line x1="228.7" y1="347.8" x2="304.7" y2="381.3" stroke="#1a1a1a" stroke-width="0.9"/>
<text x="223.4" y="382.6" font-size="9.2" text-anchor="middle" fill="#1a1a1a" font-family="Liberation Sans" font-weight="bold" >9</text>
<line x1="215.9" y1="384.7" x2="228.7" y2="384.7" stroke="#1a1a1a" stroke-width="1.1"/>
<line x1="228.7" y1="384.7" x2="266.0" y2="391.5" stroke="#1a1a1a" stroke-width="0.9"/>
<text x="222.5" y="420.4" font-size="9.2" text-anchor="middle" fill="#1a1a1a" font-family="Liberation Sans" font-weight="bold" >8</text>
<line x1="214.8" y1="422.3" x2="228.7" y2="422.3" stroke="#1a1a1a" stroke-width="1.1"/>
<line x1="228.7" y1="422.3" x2="322.1" y2="454.9" stroke="#1a1a1a" stroke-width="0.9"/>
<text x="222.0" y="457.0" font-size="9.2" text-anchor="middle" fill="#1a1a1a" font-family="Liberation Sans" font-weight="bold" >7</text>
<line x1="214.0" y1="459.2" x2="235.3" y2="459.2" stroke="#1a1a1a" stroke-width="1.1"/>
<line x1="235.3" y1="459.2" x2="289.0" y2="467.0" stroke="#1a1a1a" stroke-width="0.9"/>
<text x="436.4" y="199.8" font-size="9.2" text-anchor="middle" fill="#1a1a1a" font-family="Liberation Sans" font-weight="bold" >1</text>
<line x1="427.6" y1="200.8" x2="442.0" y2="200.8" stroke="#1a1a1a" stroke-width="1.1"/>
<line x1="427.6" y1="200.8" x2="358.8" y2="240.8" stroke="#1a1a1a" stroke-width="0.9"/>
<text x="437.0" y="221.3" font-size="9.2" text-anchor="middle" fill="#1a1a1a" font-family="Liberation Sans" font-weight="bold" >2</text>
<line x1="427.6" y1="222.4" x2="443.0" y2="222.4" stroke="#1a1a1a" stroke-width="1.1"/>
<line x1="427.6" y1="222.4" x2="352.4" y2="268.8" stroke="#1a1a1a" stroke-width="0.9"/>
<text x="438.8" y="248.3" font-size="9.2" text-anchor="middle" fill="#1a1a1a" font-family="Liberation Sans" font-weight="bold" >3</text>
<line x1="430.8" y1="249.6" x2="445.0" y2="249.6" stroke="#1a1a1a" stroke-width="1.1"/>
<line x1="430.8" y1="249.6" x2="400.4" y2="260.0" stroke="#1a1a1a" stroke-width="0.9"/>
<text x="440.4" y="275.8" font-size="9.2" text-anchor="middle" fill="#1a1a1a" font-family="Liberation Sans" font-weight="bold" >4</text>
<line x1="432.0" y1="276.8" x2="446.0" y2="276.8" stroke="#1a1a1a" stroke-width="1.1"/>
<line x1="432.0" y1="276.8" x2="329.3" y2="305.4" stroke="#1a1a1a" stroke-width="0.9"/>
<text x="442.0" y="303.8" font-size="9.2" text-anchor="middle" fill="#1a1a1a" font-family="Liberation Sans" font-weight="bold" >5</text>
<line x1="432.4" y1="305.0" x2="446.8" y2="305.0" stroke="#1a1a1a" stroke-width="1.1"/>
<line x1="432.4" y1="305.0" x2="347.6" y2="333.0" stroke="#1a1a1a" stroke-width="0.9"/>
<text x="449.0" y="438.3" font-size="9.2" text-anchor="middle" fill="#1a1a1a" font-family="Liberation Sans" font-weight="bold" >6</text>
<line x1="440.0" y1="439.1" x2="453.9" y2="439.1" stroke="#1a1a1a" stroke-width="1.1"/>
<line x1="440.0" y1="439.1" x2="376.1" y2="459.3" stroke="#1a1a1a" stroke-width="0.9"/></g>
<g id="d2"><path d="M91,696 L91,661 A25,25 0 0 1 141,661 L136.5,797 Q136.5,817 156.5,817 L352,817 Q367,817 367,802 L367,785" stroke="#2a2a2a" stroke-width="6.2" fill="none" stroke-linecap="butt"/>
<path d="M91,696 L91,661 A25,25 0 0 1 141,661 L136.5,797 Q136.5,817 156.5,817 L352,817 Q367,817 367,802 L367,785" stroke="#fff" stroke-width="4.2" fill="none" stroke-linecap="butt"/>
<path d="M89.5,716 L89.5,740" stroke="#2a2a2a" stroke-width="6.5" fill="none" stroke-linecap="butt"/>
<path d="M89.5,716 L89.5,740" stroke="#fff" stroke-width="3.5" fill="none" stroke-linecap="butt"/>
<rect x="86.0" y="695.0" width="9.0" height="21.0" rx="2" stroke="#2a2a2a" stroke-width="1.2" fill="#fff"/>
<rect x="82.8" y="739.5" width="11.7" height="4.5" rx="1" stroke="#2a2a2a" stroke-width="1.2" fill="#fff"/>
<defs><pattern id="hatch" width="5" height="5" patternUnits="userSpaceOnUse" patternTransform="rotate(45)"><line x1="0" y1="0" x2="0" y2="5" stroke="#555" stroke-width="1.1"/></pattern></defs>
<path d="M46.1,748.3 L120.9,748.3 L118,763.7 L43.9,763.7 Z" stroke="#2a2a2a" stroke-width="1.0" fill="url(#hatch)" />
<line x1="45.0" y1="756.4" x2="119.5" y2="756.4" stroke="#2a2a2a" stroke-width="0.8"/>
<rect x="78.4" y="744.0" width="20.5" height="5.5" rx="2.5" stroke="#2a2a2a" stroke-width="1.3" fill="#fff"/>
<rect x="79.1" y="749.5" width="16.2" height="64.8" rx="1.5" stroke="#2a2a2a" stroke-width="1.3" fill="#fff"/>
<rect x="80.2" y="750.0" width="3.3" height="63.0" rx="0" stroke="#444" stroke-width="0.6" fill="#666"/>
<rect x="91.0" y="750.0" width="3.2" height="63.0" rx="0" stroke="#444" stroke-width="0.6" fill="#666"/>
<rect x="83.5" y="750.0" width="7.5" height="62.0" rx="1" stroke="#2a2a2a" stroke-width="1.0" fill="#fff"/>
<line x1="81.3" y1="814.3" x2="81.3" y2="826.8" stroke="#2a2a2a" stroke-width="1.1"/>
<line x1="90.1" y1="814.3" x2="90.1" y2="826.8" stroke="#2a2a2a" stroke-width="1.1"/>
<line x1="43.9" y1="826.8" x2="102.6" y2="826.8" stroke="#2a2a2a" stroke-width="1.5"/>
<path d="M81.3,826.8 L74.3,828.9 L74.3,824.7 Z" fill="#2a2a2a"/>
<path d="M90.1,826.8 L97.1,824.7 L97.1,828.9 Z" fill="#2a2a2a"/>
<text x="73.5" y="840.0" font-size="14.5" text-anchor="middle" fill="#333" font-family="Liberation Serif">ϕ14</text>
<line x1="34.4" y1="756.4" x2="34.4" y2="806.3" stroke="#2a2a2a" stroke-width="1.1"/>
<path d="M34.4,756.4 L35.9,761.4 L32.9,761.4 Z" fill="#2a2a2a"/>
<path d="M34.4,806.3 L32.9,801.3 L35.9,801.3 Z" fill="#2a2a2a"/>
<line x1="34.4" y1="756.4" x2="46.0" y2="756.4" stroke="#2a2a2a" stroke-width="1.0"/>
<line x1="33.0" y1="806.3" x2="129.7" y2="806.3" stroke="#2a2a2a" stroke-width="1.1"/>
<text x="0.0" y="0.0" font-size="14.5" text-anchor="middle" fill="#333" font-family="Liberation Serif" transform="translate(26.0,781.5) rotate(-90)">150</text>
<line x1="129.0" y1="716.0" x2="129.0" y2="806.3" stroke="#2a2a2a" stroke-width="1.1"/>
<path d="M129.0,716.0 L130.5,721.0 L127.5,721.0 Z" fill="#2a2a2a"/>
<path d="M129.0,806.3 L127.5,801.3 L130.5,801.3 Z" fill="#2a2a2a"/>
<line x1="95.0" y1="716.0" x2="133.0" y2="716.0" stroke="#2a2a2a" stroke-width="1.0"/>
<text x="0.0" y="0.0" font-size="14.5" text-anchor="middle" fill="#333" font-family="Liberation Serif" transform="translate(127.5,770.7) rotate(-90)">245</text>
<text x="209.8" y="580.5" font-size="14.4" text-anchor="middle" fill="#333" font-family="Liberation Serif">128</text>
<line x1="184.3" y1="589.5" x2="253.3" y2="589.5" stroke="#2a2a2a" stroke-width="1.2"/>
<path d="M184.3,589.5 L189.3,588.0 L189.3,591.0 Z" fill="#2a2a2a"/>
<path d="M253.3,589.5 L248.3,591.0 L248.3,588.0 Z" fill="#2a2a2a"/>
<line x1="184.3" y1="589.5" x2="184.3" y2="634.0" stroke="#2a2a2a" stroke-width="1.0"/>
<line x1="253.3" y1="589.5" x2="253.3" y2="621.0" stroke="#2a2a2a" stroke-width="1.0"/>
<text x="244.7" y="602.0" font-size="14.2" text-anchor="middle" fill="#333" font-family="Liberation Serif">40</text>
<line x1="231.0" y1="604.4" x2="253.3" y2="604.4" stroke="#2a2a2a" stroke-width="1.2"/>
<path d="M231.0,604.4 L235.0,603.2 L235.0,605.6 Z" fill="#2a2a2a"/>
<path d="M253.3,604.4 L249.3,605.6 L249.3,603.2 Z" fill="#2a2a2a"/>
<line x1="231.0" y1="604.4" x2="231.0" y2="631.0" stroke="#2a2a2a" stroke-width="1.0"/>
<path d="M186,633.7 L222.5,633.7 L222.5,774.7 L186,774.7 Q182.4,774.7 182.4,771 L182.4,637.5 Q182.4,633.7 186,633.7 Z" stroke="#2a2a2a" stroke-width="1.2" fill="none" />
<line x1="182.4" y1="645.9" x2="222.5" y2="645.9" stroke="#2a2a2a" stroke-width="1.1"/>
<line x1="182.4" y1="761.6" x2="222.5" y2="761.6" stroke="#2a2a2a" stroke-width="1.1"/>
<path d="M182.4,668 A3.5,4 0 0 0 182.4,676" stroke="#2a2a2a" stroke-width="1.0" fill="none" />
<rect x="222.5" y="631.0" width="9.4" height="146.5" rx="1.5" stroke="#2a2a2a" stroke-width="1.2" fill="none"/>
<rect x="231.9" y="631.0" width="14.0" height="146.5" rx="1" stroke="#2a2a2a" stroke-width="1.2" fill="none"/>
<line x1="244.0" y1="636.0" x2="244.0" y2="772.0" stroke="#2a2a2a" stroke-width="0.9"/>
<rect x="238.0" y="634.0" width="7.9" height="11.0" rx="2" stroke="#2a2a2a" stroke-width="1.0" fill="none"/>
<rect x="238.0" y="763.0" width="7.9" height="11.0" rx="2" stroke="#2a2a2a" stroke-width="1.0" fill="none"/>
<line x1="252.4" y1="621.6" x2="251.5" y2="789.6" stroke="#222" stroke-width="2.2"/>
<path d="M232,633 Q240,625 248,624 L254,622" stroke="#222" stroke-width="2.0" fill="none" />
<path d="M232,776 Q240,784 248,785 L254,788" stroke="#222" stroke-width="2.0" fill="none" />
<ellipse cx="249.5" cy="622.6" rx="4.5" ry="3" stroke="#222" stroke-width="1.0" fill="#222"/>
<circle cx="249.5" cy="622.6" r="1.3" stroke="#fff" stroke-width="0" fill="#fff"/>
<ellipse cx="247.5" cy="787.7" rx="4.5" ry="3" stroke="#222" stroke-width="1.0" fill="#222"/>
<circle cx="247.5" cy="787.7" r="1.3" stroke="#fff" stroke-width="0" fill="#fff"/>
<line x1="252.5" y1="614.0" x2="250.0" y2="627.0" stroke="#222" stroke-width="1.8"/>
<line x1="251.0" y1="783.0" x2="249.0" y2="796.0" stroke="#222" stroke-width="1.8"/>
<ellipse cx="220.0" cy="634.5" rx="2.5" ry="1.8" stroke="#222" stroke-width="1.0" fill="#222"/>
<ellipse cx="234.0" cy="636.0" rx="2.5" ry="2.5" stroke="#222" stroke-width="1.0" fill="#222"/>
<ellipse cx="218.0" cy="773.5" rx="2.5" ry="1.8" stroke="#222" stroke-width="1.0" fill="#222"/>
<ellipse cx="232.0" cy="773.0" rx="2.5" ry="2.5" stroke="#222" stroke-width="1.0" fill="#222"/>
<text x="199.8" y="797.4" font-size="14.2" text-anchor="middle" fill="#333" font-family="Liberation Serif">104</text>
<line x1="179.6" y1="800.8" x2="244.0" y2="800.8" stroke="#2a2a2a" stroke-width="1.2"/>
<path d="M179.6,800.8 L184.6,799.3 L184.6,802.3 Z" fill="#2a2a2a"/>
<path d="M244.0,800.8 L239.0,802.3 L239.0,799.3 Z" fill="#2a2a2a"/>
<line x1="180.5" y1="775.0" x2="180.5" y2="800.8" stroke="#2a2a2a" stroke-width="1.0"/>
<line x1="244.0" y1="777.5" x2="244.0" y2="800.8" stroke="#2a2a2a" stroke-width="1.0"/>
<line x1="253.0" y1="621.6" x2="274.5" y2="621.6" stroke="#2a2a2a" stroke-width="1.0"/>
<line x1="253.0" y1="788.7" x2="274.5" y2="788.7" stroke="#2a2a2a" stroke-width="1.0"/>
<line x1="273.9" y1="621.6" x2="273.9" y2="788.7" stroke="#2a2a2a" stroke-width="1.1"/>
<path d="M273.9,621.6 L275.1,625.6 L272.7,625.6 Z" fill="#2a2a2a"/>
<path d="M273.9,788.7 L272.7,784.7 L275.1,784.7 Z" fill="#2a2a2a"/>
<text x="0.0" y="0.0" font-size="14.5" text-anchor="middle" fill="#333" font-family="Liberation Serif" transform="translate(272.0,701.4) rotate(-90)">336</text>
<text x="0.0" y="0.0" font-size="14.5" text-anchor="middle" fill="#333" font-family="Liberation Serif" transform="translate(294.4,704.2) rotate(-90)">290</text>
<rect x="311.5" y="613.3" width="268.3" height="187.0" rx="0" stroke="#666" stroke-width="1.0" fill="none"/>
<text x="441.4" y="571.5" font-size="14.5" text-anchor="middle" fill="#333" font-family="Liberation Serif">500</text>
<line x1="311.5" y1="573.2" x2="577.5" y2="573.2" stroke="#2a2a2a" stroke-width="1.2"/>
<path d="M311.5,573.2 L316.5,571.7 L316.5,574.7 Z" fill="#2a2a2a"/>
<path d="M577.5,573.2 L572.5,574.7 L572.5,571.7 Z" fill="#2a2a2a"/>
<line x1="311.5" y1="573.2" x2="311.5" y2="613.3" stroke="#2a2a2a" stroke-width="1.0"/>
<line x1="577.5" y1="573.2" x2="577.5" y2="613.3" stroke="#2a2a2a" stroke-width="1.0"/>
<text x="399.5" y="586.7" font-size="14.5" text-anchor="middle" fill="#333" font-family="Liberation Serif">218</text>
<line x1="342.0" y1="589.7" x2="457.7" y2="589.7" stroke="#2a2a2a" stroke-width="1.2"/>
<path d="M342.0,589.7 L347.0,588.2 L347.0,591.2 Z" fill="#2a2a2a"/>
<path d="M457.7,589.7 L452.7,591.2 L452.7,588.2 Z" fill="#2a2a2a"/>
<line x1="342.0" y1="589.7" x2="342.0" y2="622.0" stroke="#2a2a2a" stroke-width="1.0"/>
<line x1="457.7" y1="589.7" x2="457.7" y2="622.0" stroke="#2a2a2a" stroke-width="1.0"/>
<text x="398.2" y="603.0" font-size="14.5" text-anchor="middle" fill="#333" font-family="Liberation Serif">185</text>
<line x1="350.3" y1="603.1" x2="449.1" y2="603.1" stroke="#2a2a2a" stroke-width="1.2"/>
<path d="M350.3,603.1 L355.3,601.6 L355.3,604.6 Z" fill="#2a2a2a"/>
<path d="M449.1,603.1 L444.1,604.6 L444.1,601.6 Z" fill="#2a2a2a"/>
<line x1="350.3" y1="603.1" x2="350.3" y2="635.0" stroke="#2a2a2a" stroke-width="1.0"/>
<line x1="449.1" y1="603.1" x2="449.1" y2="635.0" stroke="#2a2a2a" stroke-width="1.0"/>
<line x1="298.9" y1="634.8" x2="350.0" y2="634.8" stroke="#2a2a2a" stroke-width="1.0"/>
<line x1="298.9" y1="777.3" x2="350.0" y2="777.3" stroke="#2a2a2a" stroke-width="1.0"/>
<line x1="298.9" y1="634.8" x2="298.9" y2="777.3" stroke="#2a2a2a" stroke-width="1.1"/>
<path d="M298.9,634.8 L300.1,638.8 L297.7,638.8 Z" fill="#2a2a2a"/>
<path d="M298.9,777.3 L297.7,773.3 L300.1,773.3 Z" fill="#2a2a2a"/>
<path d="M361.8,634.8 Q354.7,626.7 347.5,618.5 A6.8,6.8 0 1 0 336.5,626.5 L350.8,645.8" stroke="#222" stroke-width="1.5" fill="#fff"/>
<circle cx="342.0" cy="622.5" r="3.9" stroke="#222" stroke-width="1.4" fill="none"/>
<circle cx="354.8" cy="638.8" r="1.6" stroke="#222" stroke-width="1.1" fill="none"/>
<line x1="351.3" y1="627.0" x2="343.2" y2="632.8" stroke="#222" stroke-width="0.9"/>
<path d="M438.6,634.8 Q445.0,626.9 451.4,618.9 A6.8,6.8 0 1 1 463.0,626.1 L449.6,645.8" stroke="#222" stroke-width="1.5" fill="#fff"/>
<circle cx="457.2" cy="622.5" r="3.9" stroke="#222" stroke-width="1.4" fill="none"/>
<circle cx="445.6" cy="638.8" r="1.6" stroke="#222" stroke-width="1.1" fill="none"/>
<line x1="456.9" y1="632.5" x2="448.4" y2="627.3" stroke="#222" stroke-width="0.9"/>
<path d="M361.8,778.0 Q353.7,785.7 345.6,793.4 A6.8,6.8 0 1 1 335.8,784.0 L350.8,767.0" stroke="#222" stroke-width="1.5" fill="#fff"/>
<circle cx="340.7" cy="788.7" r="3.9" stroke="#222" stroke-width="1.4" fill="none"/>
<circle cx="354.8" cy="774.0" r="1.6" stroke="#222" stroke-width="1.1" fill="none"/>
<line x1="343.1" y1="778.8" x2="350.4" y2="785.7" stroke="#222" stroke-width="0.9"/>
<path d="M438.6,778.0 Q445.9,785.5 453.3,793.0 A6.8,6.8 0 1 0 463.7,784.4 L449.6,767.0" stroke="#222" stroke-width="1.5" fill="#fff"/>
<circle cx="458.5" cy="788.7" r="3.9" stroke="#222" stroke-width="1.4" fill="none"/>
<circle cx="445.6" cy="774.0" r="1.6" stroke="#222" stroke-width="1.1" fill="none"/>
<line x1="449.3" y1="785.5" x2="457.0" y2="779.1" stroke="#222" stroke-width="0.9"/>
<rect x="350.8" y="634.8" width="98.8" height="143.2" rx="2" stroke="#1e1e1e" stroke-width="1.6" fill="none"/>
<rect x="364.7" y="645.7" width="71.7" height="94.8" rx="9" stroke="#333" stroke-width="1.4" fill="none"/>
<circle cx="399.5" cy="674.0" r="3" stroke="#444" stroke-width="1.2" fill="none"/>
<text x="0.0" y="0.0" font-size="14.8" text-anchor="middle" fill="#3a3a3a" font-family="Liberation Sans" transform="translate(398.9,708.3) scale(0.816,1)">BWR-04</text>
<rect x="372.3" y="746.9" width="55.7" height="26.6" rx="3" stroke="#333" stroke-width="1.4" fill="none"/>
<path d="M388,786 L388,821 Q388,833 376,833 L333,833" stroke="#2a2a2a" stroke-width="6.0" fill="none" stroke-linecap="butt"/>
<path d="M388,786 L388,821 Q388,833 376,833 L333,833" stroke="#fff" stroke-width="3.4" fill="none" stroke-linecap="butt"/>
<path d="M410,786 L410,837 Q410,848.5 398,848.5 L365,848.5" stroke="#2a2a2a" stroke-width="6.5" fill="none" stroke-linecap="butt"/>
<path d="M410,786 L410,837 Q410,848.5 398,848.5 L365,848.5" stroke="#fff" stroke-width="3.8" fill="none" stroke-linecap="butt"/>
<path d="M432,786 L432,813 Q432,825 444,825 L514,825 Q526,825 526,813 L526,739" stroke="#2a2a2a" stroke-width="6.5" fill="none" stroke-linecap="butt"/>
<path d="M432,786 L432,813 Q432,825 444,825 L514,825 Q526,825 526,813 L526,739" stroke="#fff" stroke-width="3.8" fill="none" stroke-linecap="butt"/>
<rect x="363.5" y="778.5" width="7.5" height="7.0" rx="1" stroke="#222" stroke-width="1.2" fill="#fff"/>
<rect x="382.5" y="778.5" width="12.5" height="7.0" rx="1" stroke="#222" stroke-width="1.3" fill="#fff"/>
<line x1="382.5" y1="781.0" x2="395.0" y2="781.0" stroke="#222" stroke-width="1.8"/>
<rect x="404.0" y="778.5" width="12.7" height="7.0" rx="1" stroke="#222" stroke-width="1.3" fill="#fff"/>
<line x1="404.0" y1="781.0" x2="416.7" y2="781.0" stroke="#222" stroke-width="1.8"/>
<rect x="428.5" y="778.5" width="7.2" height="7.0" rx="1" stroke="#222" stroke-width="1.2" fill="#fff"/>
<text x="0.0" y="0.0" font-size="13.2" text-anchor="middle" fill="#444" font-family="Liberation Sans" transform="translate(288.3,837.7) scale(0.93,1)">KW12X1.5</text>
<text x="0.0" y="0.0" font-size="13.2" text-anchor="middle" fill="#444" font-family="Liberation Sans" transform="translate(319.7,852.4) scale(0.914,1)">KW6X1.5</text>
<ellipse cx="525.5" cy="707.2" rx="37.6" ry="35.5" stroke="#555" stroke-width="1.0" fill="#fff"/>
<circle cx="526.0" cy="673.5" r="1.3" stroke="#333" stroke-width="0" fill="#333"/>
<rect x="499.5" y="682.6" width="52.6" height="49.8" rx="3" stroke="#1e1e1e" stroke-width="2.2" fill="#fff"/>
<circle cx="526.0" cy="706.8" r="21.5" stroke="#1e1e1e" stroke-width="3.4" fill="none"/>
<rect x="512.0" y="691.0" width="27.5" height="29.3" rx="5" stroke="#444" stroke-width="1.1" fill="none"/>
<circle cx="505.5" cy="689.0" r="2.2" stroke="#333" stroke-width="1.1" fill="none"/>
<circle cx="545.6" cy="689.0" r="2.2" stroke="#333" stroke-width="1.1" fill="none"/>
<circle cx="505.5" cy="726.2" r="2.2" stroke="#333" stroke-width="1.1" fill="none"/>
<circle cx="545.6" cy="726.2" r="2.2" stroke="#333" stroke-width="1.1" fill="none"/>
<ellipse cx="517.5" cy="703.0" rx="2.2" ry="5" stroke="#222" stroke-width="1.1" fill="#444"/>
<ellipse cx="534.0" cy="703.0" rx="2.2" ry="5" stroke="#222" stroke-width="1.1" fill="#444"/>
<rect x="514.0" y="711.5" width="24.0" height="5.0" rx="0" stroke="#333" stroke-width="0.8" fill="#555"/>
<line x1="519.0" y1="695.0" x2="532.0" y2="695.0" stroke="#333" stroke-width="1.2"/>
<rect x="521.9" y="732.4" width="7.8" height="7.1" rx="1" stroke="#333" stroke-width="1.1" fill="#fff"/>
<line x1="552.0" y1="682.6" x2="597.0" y2="682.6" stroke="#2a2a2a" stroke-width="1.1"/>
<line x1="552.0" y1="732.4" x2="597.0" y2="732.4" stroke="#2a2a2a" stroke-width="1.1"/>
<line x1="596.8" y1="682.6" x2="596.8" y2="732.4" stroke="#2a2a2a" stroke-width="1.1"/>
<path d="M596.8,682.6 L598.0,686.6 L595.6,686.6 Z" fill="#2a2a2a"/>
<path d="M596.8,732.4 L595.6,728.4 L598.0,728.4 Z" fill="#2a2a2a"/>
<text x="0.0" y="0.0" font-size="14.5" text-anchor="middle" fill="#333" font-family="Liberation Serif" transform="translate(592.0,706.7) rotate(-90)">00x100</text>
<rect x="610.7" y="600.6" width="87.6" height="198.9" rx="0" stroke="#555" stroke-width="1.5" fill="none"/>
<rect x="610.7" y="663.7" width="68.0" height="78.2" rx="0" stroke="#555" stroke-width="1.5" fill="none"/>
<rect x="610.7" y="674.0" width="51.5" height="52.8" rx="0" stroke="#555" stroke-width="1.5" fill="none"/>
<line x1="613.8" y1="588.0" x2="613.8" y2="663.7" stroke="#555" stroke-width="1.5"/>
<line x1="661.9" y1="585.0" x2="661.9" y2="674.0" stroke="#555" stroke-width="1.5"/>
<line x1="614.0" y1="592.3" x2="662.0" y2="592.3" stroke="#555" stroke-width="1.2"/>
<path d="M614.5,592.3 L622.5,589.9 L622.5,594.7 Z" fill="#555"/>
<path d="M661.5,592.3 L653.5,594.7 L653.5,589.9 Z" fill="#555"/>
<text x="639.5" y="589.8" font-size="14" text-anchor="middle" fill="#444" font-family="Liberation Serif">85</text>
<rect x="633.5" y="672.3" width="11.2" height="54.5" rx="0" stroke="#555" stroke-width="1.3" fill="none"/>
<line x1="639.5" y1="674.0" x2="639.5" y2="726.8" stroke="#555" stroke-width="1.1"/>
<ellipse cx="631.8" cy="679.1" rx="2.6" ry="2" stroke="#555" stroke-width="1.1" fill="#fff"/>
<ellipse cx="648.1" cy="679.1" rx="2.6" ry="2" stroke="#555" stroke-width="1.1" fill="#fff"/>
<ellipse cx="631.8" cy="717.8" rx="2.6" ry="2" stroke="#555" stroke-width="1.1" fill="#fff"/>
<ellipse cx="648.1" cy="717.8" rx="2.6" ry="2" stroke="#555" stroke-width="1.1" fill="#fff"/>
<text x="0.0" y="0.0" font-size="15" text-anchor="middle" fill="#444" font-family="Liberation Serif" transform="translate(674.5,699.7) rotate(-90)">ϕ140</text>
<text x="0.0" y="0.0" font-size="14.5" text-anchor="middle" fill="#444" font-family="Liberation Serif" transform="translate(695.0,701.0) rotate(-90)">375</text></g>
</svg>
<div class=t style='left:263.00px;top:17.06px;font-size:46px;color:#fff;letter-spacing:0.406px;-webkit-text-stroke:0.5px #dd2a14'>Parameter</div><div class=t style='left:254.00px;top:74.69px;font-size:19.5px;color:#fff;letter-spacing:0.495px'>Low-voltage combiner box</div><div class=t style='left:495.60px;top:193.80px;font-size:16.3px;color:#111;letter-spacing:0.365px;-webkit-text-stroke:0.25px #fff'>1. Indicating pointer</div><div class=t style='left:495.60px;top:212.44px;font-size:16.3px;color:#111;letter-spacing:0.188px;-webkit-text-stroke:0.25px #fff'>2. The highest indicator needle</div><div class=t style='left:495.60px;top:231.08px;font-size:16.3px;color:#111;letter-spacing:0.096px;-webkit-text-stroke:0.25px #fff'>3. Fine adjustment screw</div><div class=t style='left:496.60px;top:249.72px;font-size:16.3px;color:#111;letter-spacing:0.128px;-webkit-text-stroke:0.25px #fff'>4. Set the pointer</div><div class=t style='left:495.60px;top:268.36px;font-size:16.3px;color:#111;letter-spacing:-0.082px;-webkit-text-stroke:0.25px #fff'>5. Set the scale</div><div class=t style='left:495.60px;top:287.00px;font-size:16.3px;color:#111;letter-spacing:0.206px;-webkit-text-stroke:0.25px #fff'>6. Matcher plugin</div><div class=t style='left:495.60px;top:305.64px;font-size:16.3px;color:#111;letter-spacing:0.122px;-webkit-text-stroke:0.25px #fff'>7. Capillary</div><div class=t style='left:496.60px;top:324.28px;font-size:16.3px;color:#111;letter-spacing:0.103px;-webkit-text-stroke:0.25px #fff'>8. Lead connector</div><div class=t style='left:495.60px;top:342.92px;font-size:16.3px;color:#111;letter-spacing:0.290px;-webkit-text-stroke:0.25px #fff'>9. Wiring terminal</div><div class=t style='left:495.60px;top:361.56px;font-size:16.3px;color:#111;letter-spacing:0.152px;-webkit-text-stroke:0.25px #fff'>10. Micro switch</div><div class=t style='left:495.60px;top:380.20px;font-size:16.3px;color:#111;letter-spacing:0.086px;-webkit-text-stroke:0.25px #fff'>11. Check handle</div><div class=t style='left:495.60px;top:398.84px;font-size:16.3px;color:#111;letter-spacing:0.181px;-webkit-text-stroke:0.25px #fff'>12. Electric heating element</div><div class=t style='left:495.60px;top:417.48px;font-size:16.3px;color:#111;letter-spacing:0.113px;-webkit-text-stroke:0.25px #fff'>13. Bellows</div><div class=t style='left:495.60px;top:436.12px;font-size:16.3px;color:#111;letter-spacing:0.086px;-webkit-text-stroke:0.25px #fff'>14. Warm bag</div><div class=t style='left:495.60px;top:454.76px;font-size:16.3px;color:#111;letter-spacing:0.262px;-webkit-text-stroke:0.25px #fff'>15. Install bolts</div><div class=t style='left:289.00px;top:515.98px;font-size:23.3px;color:#000;letter-spacing:0.215px;-webkit-text-stroke:0.4px #fff'>Structure chart</div><div class=t style='left:40.00px;top:562.55px;font-size:21.2px;color:#000;letter-spacing:0.436px;-webkit-text-stroke:0.4px #fff'>Unit: mm</div><div class=t style='left:282.20px;top:880.74px;font-size:23.7px;color:#000;letter-spacing:-0.194px;-webkit-text-stroke:0.4px #fff'>Dimensions</div><div class=t style='left:78.40px;top:997.09px;font-size:17.5px;color:#1a1a1a;letter-spacing:0.966px'>Product name:</div><div class=t style='left:214.00px;top:997.09px;font-size:17.5px;color:#2a2a2a;letter-spacing:0.503px;-webkit-text-stroke:0.25px #fff'>Transformer winding thermometer</div><div class=t style='left:78.80px;top:1026.49px;font-size:17.5px;color:#1a1a1a;letter-spacing:0.923px'>Indication accuracy:</div><div class=t style='left:260.20px;top:1026.49px;font-size:17.5px;color:#2a2a2a;letter-spacing:-0.369px;-webkit-text-stroke:0.25px #fff'>Class 2.0</div><div class=t style='left:78.00px;top:1052.49px;font-size:17.5px;color:#1a1a1a;letter-spacing:0.946px'>Product model:</div><div class=t style='left:217.80px;top:1052.49px;font-size:17.5px;color:#2a2a2a;letter-spacing:-0.921px;-webkit-text-stroke:0.25px #fff'>BWR(WTYK)-04</div><div class=t style='left:75.80px;top:1080.69px;font-size:17.5px;color:#1a1a1a;letter-spacing:1.061px'>Normal ambient temperature:</div><div class=t style='left:338.80px;top:1080.69px;font-size:17.5px;color:#2a2a2a;letter-spacing:-0.430px;-webkit-text-stroke:0.25px #fff'>(-40~+55)°C</div><div class=t style='left:75.80px;top:1110.19px;font-size:17.5px;color:#1a1a1a;letter-spacing:0.680px'>Measuring range:</div><div class=t style='left:230.60px;top:1110.19px;font-size:17.5px;color:#2a2a2a;letter-spacing:-0.452px;-webkit-text-stroke:0.25px #fff'>0~150°C, -30-120°C,</div><div class=t style='left:76.80px;top:1139.39px;font-size:17.5px;color:#1a1a1a;letter-spacing:0.927px'>The time constant of the instrument:</div><div class=t style='left:396.20px;top:1139.39px;font-size:17.5px;color:#2a2a2a;letter-spacing:0.073px;-webkit-text-stroke:0.25px #fff'>less than 30 seconds</div><div class=t style='left:74.80px;top:1169.19px;font-size:17.5px;color:#1a1a1a;letter-spacing:0.885px'>Contact capacity:</div><div class=t style='left:233.00px;top:1169.19px;font-size:17.5px;color:#2a2a2a;letter-spacing:-0.747px;-webkit-text-stroke:0.25px #fff'>AC220V, 5A</div><div class=t style='left:73.80px;top:1199.49px;font-size:17.5px;color:#1a1a1a;letter-spacing:0.941px'>Setting range:</div><div class=t style='left:203.20px;top:1199.49px;font-size:17.5px;color:#2a2a2a;letter-spacing:0.162px;-webkit-text-stroke:0.25px #fff'>0~150°C (adjustable in full range)</div><div class=t style='left:76.00px;top:1226.59px;font-size:17.5px;color:#1a1a1a;letter-spacing:0.800px'>The length of the capillary tube:</div><div class=t style='left:356.60px;top:1226.59px;font-size:17.5px;color:#2a2a2a;letter-spacing:0.415px;-webkit-text-stroke:0.25px #fff'>the distance from the meter head to</div><div class=t style='left:76.00px;top:1240.89px;font-size:17.5px;color:#2a2a2a;letter-spacing:0.312px;-webkit-text-stroke:0.25px #fff'>the bulb is L=5 meters. It can be lengthened with special requirements.</div><div class=t style='left:76.00px;top:1269.19px;font-size:17.5px;color:#1a1a1a;letter-spacing:0.890px'>Test conditions for the temperature rise characteristics of electric heating</div><div class=t style='left:75.00px;top:1283.49px;font-size:17.5px;color:#1a1a1a;letter-spacing:0.891px'>elements:</div><div class=t style='left:168.00px;top:1283.49px;font-size:17.5px;color:#2a2a2a;letter-spacing:0.420px;-webkit-text-stroke:0.25px #fff'>the ambient temperature of the meter head is 23±1C, and the</div><div class=t style='left:76.00px;top:1297.99px;font-size:17.5px;color:#2a2a2a;letter-spacing:0.514px;-webkit-text-stroke:0.25px #fff'>working temperature of the temperature bulb is 70±0.1C</div>
</body></html>
